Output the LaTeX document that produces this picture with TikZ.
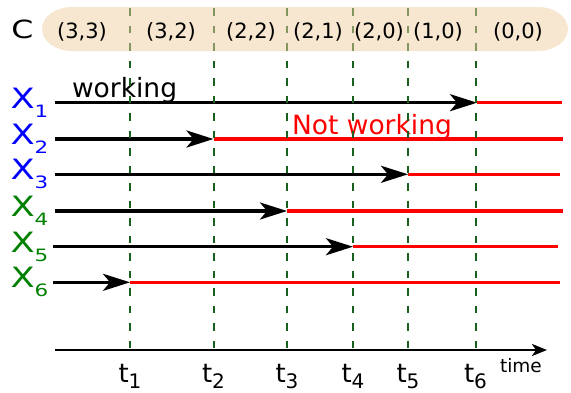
\documentclass[tikz,border=0pt]{standalone}
\usepackage{fontspec}
\setmainfont{DejaVu Sans}
\usetikzlibrary{arrows.meta}
\definecolor{beige}{RGB}{239,205,161}
\definecolor{dgreen}{RGB}{25,95,30}
\definecolor{xgreen}{RGB}{0,128,0}
\definecolor{xblue}{RGB}{0,0,255}
\definecolor{wred}{RGB}{255,0,0}
\newcommand{\xlab}[1]{\scalebox{1.26}[1]{X\raisebox{-9pt}{\fontsize{17}{17}\selectfont #1}}}
\newcommand{\tlab}[1]{t\raisebox{-6.5pt}{\fontsize{20}{20}\selectfont #1}}
\begin{document}
\begin{tikzpicture}[x=1pt,y=-1pt,
  txt/.style={inner sep=0pt, outer sep=0pt},
  xl/.style={txt, anchor=base west, font=\fontsize{28}{32}\selectfont},
  tl/.style={txt, anchor=base, font=\fontsize{26}{30}\selectfont},
  pl/.style={txt, anchor=base, font=\fontsize{21}{24}\selectfont},
  bigtxt/.style={txt, anchor=base west, font=\fontsize{26.5}{30}\selectfont},
  wline/.style={draw=black, line width=3.2pt, -{Stealth[length=27pt,width=17pt,inset=7pt]}},
  rline/.style={draw=wred, line width=3.4pt},
  dline/.style={draw=dgreen, line width=2pt, dash pattern=on 7.5pt off 10pt},
  axisline/.style={draw=black, line width=2.6pt, -{Stealth[length=15pt,width=12pt,inset=4pt]}}
]
\useasboundingbox (0,0) rectangle (571,392);

% process lines
\foreach \i/\y/\s/\p/\e/\c in {1/102.7/55/477/562/xblue,2/139/55/213.5/563/xblue,3/174.3/55/408/560/xblue,4/211/55/287/563/xgreen,5/246.7/53/353/558/xgreen,6/282.3/53/130/560/xgreen}{
  \coordinate (s\i) at (\s,\y);
  \coordinate (p\i) at (\p,\y);
  \coordinate (e\i) at (\e,\y);
  \draw[rline] (p\i) -- (e\i);
  \draw[wline] (s\i) -- (p\i);
  \node[xl, text=\c] (x\i) at (10.5,\y+5.5) {\xlab{\i}};
}

\node[bigtxt] (working) at (72,97.5) {working};
\node[bigtxt, text=wred] (notworking) at (292,134.5) {Not working};

% time axis
\coordinate (a0) at (55,350);
\coordinate (a1) at (547,350);
\draw[axisline] (a0) -- (a1);
\node[txt, anchor=base west, font=\fontsize{18.5}{22}\selectfont] (time) at (500,372) {time};

% event times
\foreach \j/\tx in {1/130,2/213.5,3/287,4/353,5/408,6/475.5}{
  \coordinate (top\j) at (\tx,8);
  \coordinate (bot\j) at (\tx,350);
  \draw[dline] (top\j) -- (bot\j);
  \node[tl] (t\j) at (\tx,382) {\tlab{\j}};
}

% state band
\fill[beige, fill opacity=0.5]
  (72,7) -- (538,7) .. controls (554.6,7) and (568,16.8) .. (568,29)
  .. controls (568,41.2) and (554.6,51) .. (538,51) -- (72,51)
  .. controls (55.4,51) and (42,41.2) .. (42,29)
  .. controls (42,16.8) and (55.4,7) .. cycle;

\node[txt, anchor=base west, font=\fontsize{25}{28}\selectfont] (C) at (11.5,38.3) {\scalebox{1.26}[1]{C}};
\foreach \k/\cx/\lab in {1/82/{(3,3)},2/171/{(3,2)},3/251/{(2,2)},4/318/{(2,1)},5/379/{(2,0)},6/438/{(1,0)},7/518/{(0,0)}}{
  \node[pl] (c\k) at (\cx,38.5) {\lab};
}
\end{tikzpicture}
\end{document}
